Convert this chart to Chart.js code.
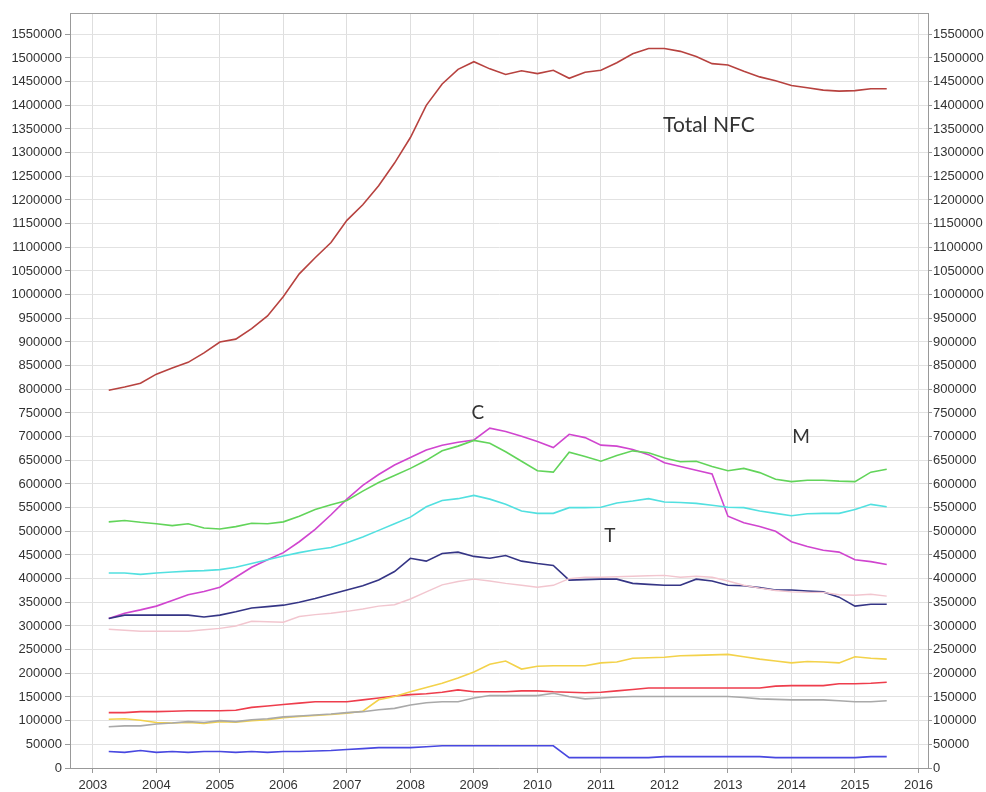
<!DOCTYPE html>
<html>
<head>
<meta charset="utf-8">
<script src="https://cdn.jsdelivr.net/npm/chart.js@4.4.1/dist/chart.umd.min.js"></script>
<style>
body { margin: 0; background: #fff; }
#myChart { display: block; }
</style>
</head>
<body>
<canvas id="myChart" width="986" height="792"></canvas>
<script>
// quarterly, 2003Q2 .. 2015Q3 (decimal years)
var quarters = [];
for (var q = 0; q < 50; q++) quarters.push(2003.25 + q * 0.25);

var totalNFC = [798000, 805000, 813000, 832000, 845000, 857000, 877000, 900000, 906000, 928000,
    955000, 996000, 1044000, 1078000, 1110000, 1157000, 1190000, 1230000, 1278000, 1332000,
    1400000, 1445000, 1476000, 1492000, 1477000, 1465000, 1473000, 1467000, 1474000, 1457000,
    1470000, 1474000, 1490000, 1509000, 1520000, 1520000, 1514000, 1503000, 1488000, 1485000,
    1472000, 1460000, 1452000, 1442000, 1437000, 1432000, 1430000, 1431000, 1435000, 1435000];
var seriesC = [316000, 327000, 334000, 342000, 354000, 366000, 373000, 382000, 403000, 424000,
    440000, 455000, 478000, 504000, 535000, 568000, 597000, 620000, 640000, 656000,
    672000, 682000, 688000, 693000, 718000, 711000, 701000, 690000, 677000, 705000,
    698000, 682000, 680000, 673000, 662000, 645000, 637000, 629000, 621000, 532000,
    518000, 510000, 500000, 478000, 468000, 460000, 456000, 440000, 436000, 430000];
var seriesM = [520000, 523000, 519000, 516000, 512000, 516000, 507000, 505000, 510000, 517000,
    516000, 520000, 532000, 546000, 556000, 565000, 585000, 603000, 618000, 633000,
    650000, 670000, 680000, 692000, 686000, 668000, 648000, 628000, 625000, 667000,
    658000, 648000, 660000, 670000, 666000, 655000, 647000, 648000, 637000, 628000,
    633000, 624000, 610000, 605000, 608000, 608000, 606000, 605000, 625000, 631000];
var seriesCyan = [412000, 412000, 409000, 412000, 414000, 416000, 417000, 419000, 424000, 432000,
    440000, 448000, 455000, 461000, 466000, 476000, 488000, 502000, 516000, 530000,
    552000, 565000, 569000, 576000, 568000, 557000, 543000, 538000, 538000, 550000,
    550000, 551000, 560000, 564000, 569000, 562000, 561000, 559000, 555000, 551000,
    550000, 543000, 538000, 533000, 537000, 538000, 538000, 546000, 557000, 552000];
var seriesNavy = [316000, 323000, 323000, 323000, 323000, 323000, 319000, 323000, 330000, 338000,
    341000, 344000, 350000, 358000, 367000, 376000, 385000, 397000, 415000, 443000,
    437000, 453000, 456000, 447000, 443000, 449000, 437000, 432000, 428000, 397000,
    398000, 399000, 399000, 390000, 388000, 386000, 386000, 399000, 395000, 386000,
    385000, 381000, 376000, 376000, 374000, 372000, 361000, 342000, 346000, 346000];
var seriesPink = [293000, 291000, 289000, 289000, 289000, 289000, 292000, 295000, 300000, 310000,
    309000, 308000, 320000, 324000, 327000, 331000, 336000, 342000, 345000, 357000,
    372000, 387000, 394000, 399000, 395000, 390000, 386000, 382000, 386000, 400000,
    403000, 403000, 404000, 405000, 406000, 407000, 403000, 405000, 403000, 395000,
    386000, 380000, 375000, 372000, 371000, 371000, 366000, 365000, 367000, 363000];
var seriesYellow = [103000, 104000, 101000, 96000, 95000, 96000, 94000, 98000, 97000, 100000,
    102000, 106000, 109000, 111000, 113000, 116000, 120000, 144000, 151000, 161000,
    170000, 179000, 190000, 203000, 219000, 226000, 209000, 215000, 216000, 216000,
    216000, 222000, 224000, 232000, 233000, 234000, 237000, 238000, 239000, 240000,
    235000, 230000, 226000, 222000, 225000, 224000, 222000, 235000, 232000, 230000];
var seriesRed = [117000, 117000, 119000, 119000, 120000, 121000, 121000, 121000, 122000, 128000,
    131000, 134000, 137000, 140000, 140000, 140000, 144000, 148000, 152000, 155000,
    157000, 160000, 165000, 161000, 161000, 161000, 163000, 163000, 161000, 160000,
    159000, 160000, 163000, 166000, 169000, 169000, 169000, 169000, 169000, 169000,
    169000, 169000, 173000, 174000, 174000, 174000, 178000, 178000, 179000, 181000];
var seriesGray = [87000, 89000, 89000, 93000, 95000, 98000, 96000, 100000, 98000, 102000,
    104000, 108000, 110000, 112000, 114000, 117000, 119000, 123000, 126000, 133000,
    138000, 140000, 140000, 148000, 153000, 153000, 153000, 153000, 158000, 151000,
    146000, 148000, 150000, 151000, 151000, 151000, 151000, 151000, 151000, 151000,
    149000, 146000, 145000, 144000, 144000, 144000, 142000, 140000, 140000, 142000];
var seriesBlue = [35000, 33000, 37000, 33000, 35000, 33000, 35000, 35000, 33000, 35000,
    33000, 35000, 35000, 36000, 37000, 39000, 41000, 43000, 43000, 43000,
    45000, 47000, 47000, 47000, 47000, 47000, 47000, 47000, 47000, 22000,
    22000, 22000, 22000, 22000, 22000, 24000, 24000, 24000, 24000, 24000,
    24000, 24000, 22000, 22000, 22000, 22000, 22000, 22000, 24000, 24000];

var yearTicks = [2003, 2004, 2005, 2006, 2007, 2008, 2009, 2010, 2011, 2012, 2013, 2014, 2015, 2016];
// 0, 50000, ... 1550000
var valueTicks = [];
for (var t = 0; t <= 1550000; t += 50000) valueTicks.push(t);

var noteText = ['Total NFC', 'C', 'T', 'M'];
var noteX = [2012.7, 2009.06, 2011.14, 2014.15];
var noteY = [1358000, 750000, 491000, 700000];

function pts(values) {
    return values.map(function (v, i) { return {x: quarters[i], y: v}; });
}

function line(label, values, color, width) {
    return {
        label: label,
        data: pts(values),
        borderColor: color,
        backgroundColor: color,
        borderWidth: width || 1.6,
        pointRadius: 0,
        tension: 0,
        fill: false,
    };
}

// frame line on top + text notes
var notesPlugin = {
    id: 'notes',
    afterDatasetsDraw: function (chart) {
        var c = chart.ctx, a = chart.chartArea;
        var sx = chart.scales.x, sy = chart.scales.y;
        c.save();
        c.strokeStyle = '#a0a0a0';
        c.lineWidth = 1;
        c.beginPath();
        c.moveTo(a.left, a.top + 0.5);
        c.lineTo(a.right, a.top + 0.5);
        c.stroke();
        c.fillStyle = '#333333';
        c.textAlign = 'center';
        c.textBaseline = 'middle';
        for (var i = 0; i < noteText.length; i++) {
            c.font = (i == 0 ? '21px' : '19px') + ' Lato, "Open Sans", sans-serif';
            c.fillText(noteText[i], sx.getPixelForValue(noteX[i]), sy.getPixelForValue(noteY[i]));
        }
        c.restore();
    }
};

function fixedTicks(list) {
    return function (scale) {
        scale.ticks = list.map(function (v) { return {value: v}; });
    };
}

var tickFont = {family: '"Liberation Sans", Arial, sans-serif', size: 13};

var graphData = {
    type: 'line',
    data: {
        datasets: [
            line('pink', seriesPink, '#f2c6cf', 1.4),
            line('gray', seriesGray, '#a9a9a9'),
            line('yellow', seriesYellow, '#f3d24a'),
            line('red', seriesRed, '#ee3d4c'),
            line('blue', seriesBlue, '#4848e0'),
            line('cyan', seriesCyan, '#52e0e0'),
            line('navy', seriesNavy, '#353585'),
            line('M', seriesM, '#62d45a'),
            line('C', seriesC, '#d045cf'),
            line('Total NFC', totalNFC, '#b7423f'),
        ]
    },
    options: {
        responsive: false,
        animation: false,
        layout: {padding: {top: 13, left: 0, right: 0, bottom: 0}},
        plugins: {
            legend: {display: false},
            tooltip: {enabled: false},
        },
        scales: {
            x: {
                type: 'linear',
                min: 2002.64,
                max: 2016.15,
                afterBuildTicks: fixedTicks(yearTicks),
                afterFit: function (scale) { scale.height = 24; },
                ticks: {
                    color: '#333333',
                    font: tickFont,
                    padding: 5,
                    maxRotation: 0,
                    autoSkip: false,
                    callback: function (v) { return String(v); },
                },
                grid: {color: '#dedede', tickColor: '#999999', tickLength: 5},
                border: {color: '#999999'},
            },
            y: {
                type: 'linear',
                position: 'left',
                min: 0,
                max: 1595000,
                afterBuildTicks: fixedTicks(valueTicks),
                afterFit: function (scale) { scale.width = 70; },
                ticks: {
                    color: '#333333',
                    font: tickFont,
                    padding: 3,
                    autoSkip: false,
                    callback: function (v) { return String(v); },
                },
                grid: {color: '#e2e2e2', tickColor: '#999999', tickLength: 5},
                border: {color: '#999999'},
            },
            y2: {
                type: 'linear',
                position: 'right',
                min: 0,
                max: 1595000,
                afterBuildTicks: fixedTicks(valueTicks),
                afterFit: function (scale) { scale.width = 58; },
                ticks: {
                    color: '#333333',
                    font: tickFont,
                    padding: 1,
                    autoSkip: false,
                    callback: function (v) { return String(v); },
                },
                grid: {drawOnChartArea: false, tickColor: '#999999', tickLength: 4},
                border: {color: '#999999'},
            },
        }
    },
    plugins: [notesPlugin]
};

var myChart = new Chart(document.getElementById('myChart'), graphData);
</script>
</body>
</html>
